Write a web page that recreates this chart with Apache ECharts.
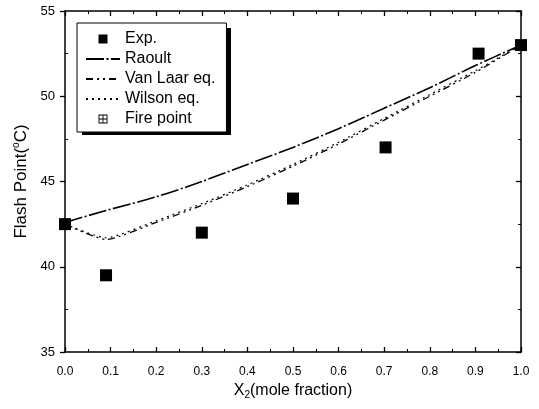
<!DOCTYPE html>
<html><head><meta charset="utf-8">
<script src="https://cdn.jsdelivr.net/npm/echarts@6/dist/echarts.min.js"></script>
<style>html,body{margin:0;padding:0;background:#fff}#c{width:539px;height:409px}</style>
</head><body><div id="c"></div>
<script>
var expX = [0.0, 0.09, 0.3, 0.5, 0.703, 0.907, 1.0];
var expY = [42.5, 39.5, 42.0, 44.0, 47.0, 52.5, 53.0];
var modelX = [0.0, 0.09, 0.2, 0.3, 0.4, 0.5, 0.6, 0.7, 0.8, 0.9, 1.0];
var raoult = [42.6, 43.3, 44.1, 45.0, 46.0, 47.0, 48.1, 49.3, 50.5, 51.8, 53.0];
var vanLaar = [42.5, 41.6, 42.6, 43.6, 44.7, 45.9, 47.2, 48.6, 50.0, 51.4, 53.0];
var wilson = [42.5, 41.7, 42.7, 43.7, 44.8, 46.0, 47.3, 48.7, 50.1, 51.5, 53.0];
var firePoint = [];
var xTicks = ['0.0','0.1','0.2','0.3','0.4','0.5','0.6','0.7','0.8','0.9','1.0'];

function pairs(xs, ys){ return xs.map(function(x,i){ return [x, ys[i]]; }); }
var FONT = 'Liberation Sans, Arial, sans-serif';
var firePath = 'path://M0,0H10V10H0Z M1,1V9H9V1Z M4.5,1H5.5V9H4.5Z M1,4.5H9V5.5H1Z';
var squarePath = 'path://M0,0H10V10H0Z';

function axLine(){ return {onZero:false, lineStyle:{color:'#000', width:1.5}}; }
function minor(){ return {show:true, splitNumber:2, length:3, lineStyle:{color:'#000', width:1}}; }

var chart = echarts.init(document.getElementById('c'), null, {renderer:'canvas'});
chart.setOption({
  animation:false,
  backgroundColor:'#fff',
  grid:{left:65, right:18, top:11, bottom:57},
  graphic:[{type:'rect', left:82, top:28, shape:{width:149, height:107}, style:{fill:'#000'}, z:1, silent:true}],
  xAxis:[{
    type:'value', min:0, max:1, interval:0.1, position:'bottom',
    axisLine:axLine(),
    axisTick:{inside:true, length:5, lineStyle:{color:'#000', width:1.3}},
    minorTick:minor(),
    axisLabel:{color:'#000', fontFamily:FONT, fontSize:12, margin:14,
      formatter:function(v){ return xTicks[Math.round(v*10)]; }},
    splitLine:{show:false},
    name:'{a|X}{s|2}{a|(mole fraction)}', nameLocation:'middle', nameGap:29,
    nameTextStyle:{rich:{a:{fontFamily:FONT, fontSize:16, color:'#000'}, s:{fontFamily:FONT, fontSize:10, color:'#000', padding:[9,0,0,0]}}}
  },{
    type:'value', min:0, max:1, interval:0.1, position:'top',
    axisLine:axLine(),
    axisTick:{inside:true, length:5, lineStyle:{color:'#000', width:1.3}},
    minorTick:minor(),
    axisLabel:{show:false}, splitLine:{show:false}
  }],
  yAxis:[{
    type:'value', min:35, max:55, interval:5, position:'left',
    axisLine:axLine(),
    axisTick:{inside:false, length:5, lineStyle:{color:'#000', width:1.3}},
    minorTick:{show:false},
    axisLabel:{color:'#000', fontFamily:FONT, fontSize:13, margin:10},
    splitLine:{show:false},
    name:'{a|Flash Point(}{s|o}{a|C)}', nameLocation:'middle', nameGap:25,
    nameTextStyle:{rich:{a:{fontFamily:FONT, fontSize:17, color:'#000'}, s:{fontFamily:FONT, fontSize:10, color:'#000', padding:[0,0,9,0]}}}
  },{
    type:'value', min:35, max:55, interval:5, position:'right',
    axisLine:axLine(),
    axisTick:{inside:true, length:5, lineStyle:{color:'#000', width:1.3}},
    minorTick:minor(),
    axisLabel:{show:false}, splitLine:{show:false}
  },{
    type:'value', min:35, max:55, interval:5, position:'left',
    axisLine:{show:false, onZero:false},
    axisTick:{inside:true, length:0.01, lineStyle:{color:'#000', width:0}},
    minorTick:minor(),
    axisLabel:{show:false}, splitLine:{show:false}
  }],
  legend:{
    orient:'vertical', left:77, top:23, z:10,
    padding:[8,11,5,8], itemGap:4, itemWidth:34, itemHeight:9,
    backgroundColor:'#fff', borderColor:'#000', borderWidth:1,
    textStyle:{color:'#000', fontFamily:FONT, fontSize:16},
    data:[
      {name:'Exp.', icon:squarePath},
      {name:'Raoult', itemStyle:{opacity:0}},
      {name:'Van Laar eq.', itemStyle:{opacity:0}},
      {name:'Wilson eq.', itemStyle:{opacity:0}},
      {name:'Fire point', icon:firePath}
    ]
  },
  series:[
    {name:'Raoult', type:'line', data:pairs(modelX, raoult), symbol:'none', smooth:0.3,
      lineStyle:{color:'#000', width:1.6, type:[18,2.5,2,2.5]}, itemStyle:{color:'#000'}},
    {name:'Van Laar eq.', type:'line', data:pairs(modelX, vanLaar), symbol:'none', smooth:0.2,
      lineStyle:{color:'#000', width:1.3, type:[7,4,2,4,2,4]}, itemStyle:{color:'#000'}},
    {name:'Wilson eq.', type:'line', data:pairs(modelX, wilson), symbol:'none', smooth:0.2,
      lineStyle:{color:'#000', width:1.2, type:[2,4]}, itemStyle:{color:'#000'}},
    {name:'Exp.', type:'scatter', data:pairs(expX, expY), symbol:'rect', symbolSize:12,
      itemStyle:{color:'#000', opacity:1}, z:5},
    {name:'Fire point', type:'scatter', data:firePoint, symbol:firePath, symbolSize:9,
      itemStyle:{color:'#000', opacity:1}}
  ]
});
</script></body></html>
